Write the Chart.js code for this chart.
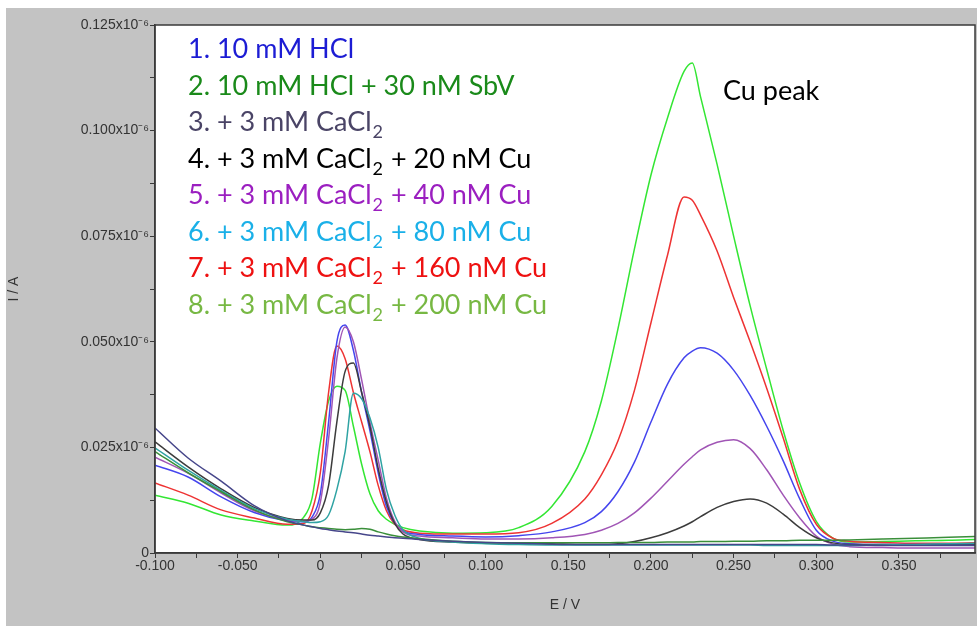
<!DOCTYPE html>
<html>
<head>
<meta charset="utf-8">
<script src="https://cdn.jsdelivr.net/npm/chart.js@4"></script>
<style>
  html, body { margin: 0; padding: 0; background: #fff; }
  canvas { display: block; }
</style>
</head>
<body>
<canvas id="chart" width="977" height="626"></canvas>
<script>
// potential axis (V) shared by all curves
var potential = [-0.100, -0.080, -0.060, -0.040, -0.020, -0.010, -0.005, 0.000, 0.005, 0.010,
  0.015, 0.020, 0.025, 0.030, 0.035, 0.040, 0.045, 0.050, 0.060, 0.080,
  0.100, 0.120, 0.140, 0.160, 0.170, 0.180, 0.190, 0.200, 0.210, 0.220,
  0.225, 0.230, 0.240, 0.250, 0.260, 0.270, 0.280, 0.290, 0.300, 0.310,
  0.320, 0.340, 0.360, 0.380, 0.396];

// currents, in units of 1e-6 A
var hcl = [0.0296, 0.0225, 0.0170, 0.0112, 0.0076, 0.0066, 0.0062, 0.0058, 0.0055, 0.0052,
  0.0050, 0.0048, 0.0045, 0.0042, 0.0040, 0.0038, 0.0036, 0.0035, 0.0032, 0.0028,
  0.0025, 0.0023, 0.0021, 0.0020, 0.0020, 0.0020, 0.0020, 0.0020, 0.0020, 0.0020,
  0.0020, 0.0020, 0.0020, 0.0020, 0.0020, 0.0020, 0.0020, 0.0020, 0.0020, 0.0019,
  0.0019, 0.0018, 0.0018, 0.0018, 0.0018];
var hclSb = [0.0240, 0.0190, 0.0145, 0.0102, 0.0074, 0.0066, 0.0062, 0.0060, 0.0058, 0.0056,
  0.0055, 0.0056, 0.0058, 0.0056, 0.0050, 0.0045, 0.0041, 0.0038, 0.0034, 0.0028,
  0.0025, 0.0024, 0.0024, 0.0024, 0.0024, 0.0025, 0.0025, 0.0025, 0.0026, 0.0026,
  0.0026, 0.0027, 0.0027, 0.0028, 0.0028, 0.0029, 0.0029, 0.0030, 0.0030, 0.0030,
  0.0031, 0.0033, 0.0035, 0.0037, 0.0039];
var cacl = [0.0249, 0.0196, 0.0148, 0.0105, 0.0080, 0.0074, 0.0072, 0.0074, 0.0090, 0.0150,
  0.0240, 0.0378, 0.0365, 0.0320, 0.0250, 0.0150, 0.0090, 0.0055, 0.0035, 0.0026,
  0.0022, 0.0020, 0.0019, 0.0019, 0.0019, 0.0019, 0.0019, 0.0019, 0.0019, 0.0019,
  0.0019, 0.0019, 0.0019, 0.0019, 0.0019, 0.0018, 0.0018, 0.0018, 0.0018, 0.0018,
  0.0018, 0.0019, 0.0020, 0.0022, 0.0023];
var cu20 = [0.0263, 0.0204, 0.0152, 0.0108, 0.0082, 0.0078, 0.0078, 0.0095, 0.0160, 0.0310,
  0.0430, 0.0450, 0.0380, 0.0300, 0.0200, 0.0120, 0.0070, 0.0045, 0.0032, 0.0026,
  0.0024, 0.0024, 0.0022, 0.0020, 0.0020, 0.0022, 0.0027, 0.0036, 0.0048, 0.0064,
  0.0074, 0.0086, 0.0108, 0.0122, 0.0128, 0.0118, 0.0092, 0.0060, 0.0036, 0.0024,
  0.0020, 0.0020, 0.0019, 0.0019, 0.0019];
var cu40 = [0.0227, 0.0189, 0.0142, 0.0100, 0.0078, 0.0075, 0.0080, 0.0120, 0.0270, 0.0460,
  0.0535, 0.0500, 0.0410, 0.0310, 0.0220, 0.0130, 0.0075, 0.0050, 0.0040, 0.0036,
  0.0033, 0.0033, 0.0036, 0.0044, 0.0054, 0.0070, 0.0095, 0.0130, 0.0170, 0.0210,
  0.0228, 0.0244, 0.0262, 0.0268, 0.0247, 0.0197, 0.0137, 0.0083, 0.0040, 0.0021,
  0.0015, 0.0013, 0.0012, 0.0012, 0.0012];
var cu80 = [0.0208, 0.0180, 0.0133, 0.0096, 0.0076, 0.0074, 0.0085, 0.0140, 0.0310, 0.0500,
  0.0540, 0.0480, 0.0380, 0.0290, 0.0190, 0.0110, 0.0070, 0.0052, 0.0044, 0.0040,
  0.0038, 0.0041, 0.0050, 0.0072, 0.0098, 0.0145, 0.0215, 0.0310, 0.0400, 0.0462,
  0.0478, 0.0486, 0.0473, 0.0433, 0.0373, 0.0300, 0.0218, 0.0128, 0.0054, 0.0028,
  0.0022, 0.0020, 0.0020, 0.0020, 0.0020];
var cu160 = [0.0166, 0.0137, 0.0102, 0.0083, 0.0068, 0.0070, 0.0100, 0.0190, 0.0380, 0.0490,
  0.0460, 0.0380, 0.0310, 0.0240, 0.0160, 0.0100, 0.0068, 0.0055, 0.0047, 0.0045,
  0.0045, 0.0048, 0.0070, 0.0128, 0.0185, 0.0265, 0.0385, 0.0545, 0.0705, 0.0843,
  0.0835, 0.0800, 0.0715, 0.0605, 0.0500, 0.0390, 0.0272, 0.0150, 0.0068, 0.0035,
  0.0028, 0.0025, 0.0023, 0.0023, 0.0024];
var cu200 = [0.0137, 0.0118, 0.0090, 0.0076, 0.0066, 0.0085, 0.0130, 0.0260, 0.0360, 0.0395,
  0.0385, 0.0300, 0.0210, 0.0140, 0.0100, 0.0080, 0.0068, 0.0060, 0.0052, 0.0047,
  0.0048, 0.0060, 0.0110, 0.0240, 0.0360, 0.0530, 0.0720, 0.0895, 0.1030, 0.1140,
  0.1160, 0.1080, 0.0920, 0.0750, 0.0585, 0.0435, 0.0290, 0.0165, 0.0075, 0.0035,
  0.0026, 0.0027, 0.0029, 0.0030, 0.0032];

var seriesData = [hcl, hclSb, cacl, cu20, cu40, cu80, cu160, cu200];
var lineColors = ['#46468a', '#3a8f3a', '#2fa3a3', '#3c3c3c', '#a055b5', '#4545ee', '#ee3333', '#33e633'];

var legendLabels = ['1. 10 mM HCl', '2. 10 mM HCl + 30 nM SbV', '3. + 3 mM CaCl\u2082',
  '4. + 3 mM CaCl\u2082 + 20 nM Cu', '5. + 3 mM CaCl\u2082 + 40 nM Cu', '6. + 3 mM CaCl\u2082 + 80 nM Cu',
  '7. + 3 mM CaCl\u2082 + 160 nM Cu', '8. + 3 mM CaCl\u2082 + 200 nM Cu'];
var legendColors = ['#1c1cd4', '#1a8a1a', '#4a4466', '#000000', '#9b1fc0', '#1ab0e8', '#ee1111', '#77b843'];

var makeDatasets = function() {
  var out = [];
  seriesData.forEach(function(s, k) {
    out.push({
      label: legendLabels[k],
      data: potential.map(function(e, i) { return {x: e, y: s[i]}; }),
      borderColor: lineColors[k],
      backgroundColor: lineColors[k],
      borderWidth: 1.5,
      pointRadius: 0,
      cubicInterpolationMode: 'monotone',
      fill: false
    });
  });
  return out;
};

// gray panel, plot frame and the text legend drawn inside the plot
var decor = {
  id: 'decor',
  beforeDraw: function(chart) {
    var c = chart.ctx, a = chart.chartArea;
    c.save();
    c.fillStyle = '#ffffff';
    c.fillRect(0, 0, chart.width, chart.height);
    c.fillStyle = '#c3c3c3';
    c.fillRect(6, 8, chart.width - 6, chart.height - 8);
    c.fillStyle = '#ffffff';
    c.fillRect(a.left, a.top, a.right - a.left, a.bottom - a.top);
    c.restore();
  },
  afterDraw: function(chart) {
    var c = chart.ctx, a = chart.chartArea;
    c.save();
    c.strokeStyle = '#3a3a3a';
    c.lineWidth = 1.5;
    c.strokeRect(a.left, a.top, a.right - a.left, a.bottom - a.top);

    var size = 27, y = 58;
    c.textBaseline = 'alphabetic';
    legendLabels.forEach(function(txt, k) {
      var x = 188;
      var parts = txt.split('\u2082');
      c.fillStyle = legendColors[k];
      parts.forEach(function(p, j) {
        c.font = size + 'px Lato';
        c.fillText(p, x, y);
        x += c.measureText(p).width;
        if (j < parts.length - 1) {
          c.font = Math.round(size * 0.66) + 'px Lato';
          c.fillText('2', x + 1, y + 7);
          x += c.measureText('2').width + 2;
        }
      });
      y += 36.5;
    });
    c.font = size + 'px Lato';
    c.fillStyle = '#000000';
    c.fillText('Cu peak', 723, 100);
    c.restore();
  }
};

var tickFont = {family: 'Liberation Sans', size: 14};

var chart = new Chart(document.getElementById('chart'), {
  type: 'line',
  data: { datasets: makeDatasets() },
  plugins: [decor],
  options: {
    responsive: false,
    animation: false,
    layout: { padding: { left: 6, top: 25, right: 2, bottom: 0 } },
    plugins: { legend: { display: false }, tooltip: { enabled: false } },
    scales: {
      x: {
        type: 'linear',
        min: -0.1,
        max: 0.396,
        afterFit: function(s) { s.height = 73; },
        border: { color: '#3a3a3a', width: 1.5 },
        grid: { drawOnChartArea: false, tickLength: 5, color: '#3a3a3a' },
        ticks: {
          stepSize: 0.025,
          includeBounds: false,
          autoSkip: false,
          maxRotation: 0,
          padding: 0,
          color: '#333333',
          font: tickFont,
          callback: function(v) {
            var n = Math.round(v / 0.025);
            if (n % 2 !== 0) return '';
            if (n === 0) return '0';
            return (n * 0.025).toFixed(3);
          }
        },
        title: { display: true, text: 'E / V', color: '#333333', font: tickFont, padding: { top: 0, bottom: 12 } }
      },
      y: {
        min: 0,
        max: 0.125,
        afterFit: function(s) { s.width = 149; },
        border: { color: '#3a3a3a', width: 1.5 },
        grid: { drawOnChartArea: false, tickLength: 5, color: '#3a3a3a' },
        ticks: {
          stepSize: 0.0125,
          autoSkip: false,
          padding: 1,
          color: '#333333',
          font: tickFont,
          callback: function(v) {
            var n = Math.round(v / 0.0125);
            if (n % 2 !== 0) return '';
            if (n === 0) return '0';
            return (n * 0.0125).toFixed(3) + 'x10\u207B\u2076';
          }
        },
        title: { display: true, text: 'I / A', color: '#333333', font: tickFont, padding: { top: 0, bottom: 2 } }
      }
    }
  }
});
</script>
</body>
</html>
